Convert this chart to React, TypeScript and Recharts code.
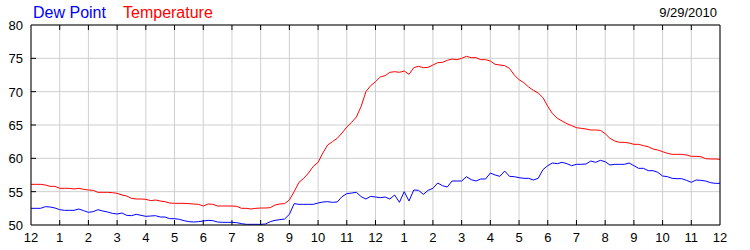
import { CartesianGrid, Line, LineChart, XAxis, YAxis } from 'recharts';

// readings every 10 minutes, midnight to midnight
const STEP_MIN = 10;

const TEMPERATURE = [
  56.1, 56.1, 56.1, 56.0, 55.8, 55.8,
  55.5, 55.5, 55.5, 55.4, 55.5, 55.35,
  55.25, 55.2, 54.9, 54.9, 54.9, 54.85,
  54.75, 54.5, 54.35, 54.0, 53.9, 53.9,
  53.85, 53.65, 53.75, 53.6, 53.5, 53.3,
  53.25, 53.25, 53.25, 53.2, 53.15, 53.1,
  52.85, 53.15, 53.1, 52.85, 52.85, 52.85,
  52.85, 52.8, 52.5, 52.5, 52.4, 52.5,
  52.55, 52.55, 52.6, 53.0, 53.15, 53.2,
  53.75, 55.0, 56.4, 57.0, 57.8, 58.8,
  59.4, 60.8, 62.0, 62.5, 63.0, 63.8,
  64.7, 65.4, 66.2, 67.8, 70.0, 70.9,
  71.5, 72.2, 72.4, 72.9, 73.0, 72.9,
  73.1, 72.6, 73.6, 73.8, 73.6, 73.65,
  74.0, 74.35, 74.4, 74.7, 74.9, 74.8,
  75.0, 75.3, 75.1, 75.1, 74.8, 74.8,
  74.6, 74.1, 74.0, 73.9, 73.5, 72.5,
  71.8, 71.35, 70.7, 70.2, 69.8, 69.1,
  67.8, 66.7, 66.0, 65.6, 65.2, 64.9,
  64.6, 64.5, 64.4, 64.25, 64.25, 64.2,
  63.7, 63.0, 62.6, 62.4, 62.4, 62.3,
  62.1, 62.1, 61.9, 61.75, 61.4, 61.25,
  61.0, 60.75, 60.6, 60.6, 60.6, 60.5,
  60.3, 60.3, 60.25, 59.95, 59.9, 59.9,
  59.85,
];

const DEW_POINT = [
  52.5, 52.5, 52.5, 52.75, 52.7, 52.55,
  52.3, 52.2, 52.2, 52.2, 52.4, 52.15,
  51.9, 52.0, 52.3, 52.1, 51.95, 51.75,
  51.65, 51.8, 51.45, 51.4, 51.6, 51.45,
  51.3, 51.35, 51.4, 51.2, 51.2, 50.95,
  50.95, 50.85, 50.65, 50.5, 50.45, 50.5,
  50.6, 50.7, 50.65, 50.45, 50.4, 50.4,
  50.4, 50.35, 50.2, 50.1, 50.1, 50.1,
  50.1, 50.15, 50.5, 50.7, 50.8, 50.9,
  51.6, 53.2, 53.1, 53.1, 53.1, 53.1,
  53.3, 53.45, 53.5, 53.4, 53.45, 54.25,
  54.7, 54.8, 54.9, 54.25, 53.9, 54.3,
  54.2, 54.1, 54.2, 53.9, 54.5, 53.4,
  55.0, 53.6, 55.25, 55.2, 54.6, 55.2,
  55.5, 56.3, 55.9, 55.7, 56.6, 56.6,
  56.6, 57.25, 56.8, 56.6, 56.9, 56.9,
  57.8, 57.5, 57.3, 58.1, 57.3, 57.25,
  57.1, 57.0, 57.0, 56.75, 57.0, 58.3,
  58.9, 59.3, 59.2, 59.4, 59.2, 58.9,
  59.1, 59.1, 59.15, 59.6, 59.4, 59.7,
  59.5, 59.0, 59.1, 59.1, 59.1, 59.3,
  58.9, 58.5, 58.5, 58.15, 58.15, 57.9,
  57.35, 57.25, 57.0, 56.95, 56.95, 56.7,
  56.4, 56.75, 56.7, 56.6, 56.35, 56.25,
  56.25,
];

const HOUR_TICKS = [0, 1, 2, 3, 4, 5, 6, 7, 8, 9, 10, 11, 12, 13, 14, 15, 16, 17, 18, 19, 20, 21, 22, 23, 24];
const DEG_TICKS = [50, 55, 60, 65, 70, 75, 80];
const DATE_LABEL = '9/29/2010';

const rows = TEMPERATURE.map((temp, i) => ({
  hour: (i * STEP_MIN) / 60,
  temp,
  dew: DEW_POINT[i],
}));

const FONT = '"Liberation Sans", Arial, sans-serif';
const hourLabel = (h: number) => (h % 12 === 0 ? '12' : String(h % 12));
const isEnd = (v: number, lo: number, hi: number) => v === lo || v === hi;

function BottomTick({ x, y, payload }: any) {
  const v = payload.value;
  return (
    <g>
      {!isEnd(v, 0, 24) && <line x1={x} x2={x} y1={y} y2={y - 5} stroke="#000" />}
      <text x={x} y={y + 16.5} textAnchor="middle" fontSize={13} fontFamily={FONT} fill="#000">
        {hourLabel(v)}
      </text>
    </g>
  );
}

function TopTick({ x, y, payload }: any) {
  if (isEnd(payload.value, 0, 24)) return <g />;
  return <line x1={x} x2={x} y1={y} y2={y + 5} stroke="#000" />;
}

function LeftTick({ x, y, payload }: any) {
  const v = payload.value;
  return (
    <g>
      {!isEnd(v, 50, 80) && <line x1={x} x2={x + 5} y1={y} y2={y} stroke="#000" />}
      <text x={x - 8} y={y + 5} textAnchor="end" fontSize={13} fontFamily={FONT} fill="#000">
        {v}
      </text>
    </g>
  );
}

function RightTick({ x, y, payload }: any) {
  const v = payload.value;
  return (
    <g>
      {!isEnd(v, 50, 80) && <line x1={x} x2={x - 5} y1={y} y2={y} stroke="#000" />}
      <text x={x + 7} y={y + 5} textAnchor="start" fontSize={13} fontFamily={FONT} fill="#000">
        {v}
      </text>
    </g>
  );
}

export default function App() {
  return (
    <div style={{ position: 'absolute', left: 0, top: 0, width: 750, height: 250, background: '#fff' }}>
      <LineChart width={750} height={250} data={rows} margin={{ top: 0, right: 0, bottom: 0, left: 0 }}>
        <CartesianGrid stroke="#cfcfcf" />
        <XAxis
          dataKey="hour" type="number" domain={[0, 24]} ticks={HOUR_TICKS} interval={0}
          height={25} tickSize={0} tickMargin={0} tickLine={false}
          axisLine={{ stroke: '#000' }} tick={<BottomTick />}
        />
        <XAxis
          xAxisId="top" orientation="top" dataKey="hour" type="number" domain={[0, 24]} ticks={HOUR_TICKS} interval={0}
          height={25} tickSize={0} tickMargin={0} tickLine={false}
          axisLine={{ stroke: '#000' }} tick={<TopTick />}
        />
        <YAxis
          type="number" domain={[50, 80]} ticks={DEG_TICKS} interval={0} width={31}
          tickSize={0} tickMargin={0} tickLine={false}
          axisLine={{ stroke: '#000' }} tick={<LeftTick />}
        />
        <YAxis
          yAxisId="right" orientation="right" type="number" domain={[50, 80]} ticks={DEG_TICKS} interval={0} width={30}
          tickSize={0} tickMargin={0} tickLine={false}
          axisLine={{ stroke: '#000' }} tick={<RightTick />}
        />
        <Line type="linear" dataKey="dew" stroke="#0000ff" strokeWidth={1} dot={false} isAnimationActive={false} />
        <Line type="linear" dataKey="temp" stroke="#ff0000" strokeWidth={1} dot={false} isAnimationActive={false} />
      </LineChart>
      <svg width={750} height={24} style={{ position: 'absolute', left: 0, top: 0 }}>
        <text x={33} y={17.5} fontSize={16} fontFamily={FONT} fill="#0000ff">Dew Point</text>
        <text x={123} y={17.5} fontSize={16} fontFamily={FONT} fill="#ff0000">Temperature</text>
        <text x={717} y={17} textAnchor="end" fontSize={13} fontFamily={FONT} fill="#000">{DATE_LABEL}</text>
      </svg>
    </div>
  );
}
